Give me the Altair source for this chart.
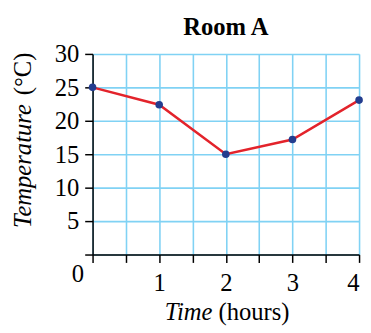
import altair as alt
import pandas as pd

hours = [0, 1, 2, 3, 4]
temps = [25.0, 22.4, 15.0, 17.2, 23.1]
x_ticks = [0, 0.5, 1, 1.5, 2, 2.5, 3, 3.5, 4]
y_ticks = [0, 5, 10, 15, 20, 25, 30]

df = pd.DataFrame({"Time": hours, "Temp": temps})

FONT = "Liberation Serif"
FS = 25
GRID = "#80d2f4"
W, H = 271, 204

xs = alt.Scale(domain=[0, 4], nice=False)
ys = alt.Scale(domain=[0, 30], nice=False)

x_axis = alt.Axis(values=x_ticks, title=None, grid=True, gridColor=GRID, gridWidth=1.6, gridOpacity=1,
                  domainColor="black", domainWidth=1.5, tickColor="black", tickWidth=1.5, tickSize=8,
                  labelFont=FONT, labelFontSize=FS, labelColor="black", labelPadding=9,
                  labelExpr="datum.value >= 1 && datum.value % 1 == 0 ? format(datum.value, 'd') : ''")
y_axis = alt.Axis(values=y_ticks, title=None, grid=True, gridColor=GRID, gridWidth=1.6, gridOpacity=1,
                  domainColor="black", domainWidth=1.5, tickColor="black", tickWidth=1.5, tickSize=8,
                  labelFont=FONT, labelFontSize=FS, labelColor="black", labelPadding=6,
                  labelExpr="datum.value == 0 ? '' : format(datum.value, 'd')")

base = alt.Chart(df)

line = base.mark_line(color="#e3232b", strokeWidth=2.5).encode(
    x=alt.X("Time:Q", scale=xs, axis=x_axis),
    y=alt.Y("Temp:Q", scale=ys, axis=y_axis),
)
pts = base.mark_point(filled=True, color="#233d8f", size=60, opacity=1).encode(
    x=alt.X("Time:Q", scale=xs, axis=x_axis),
    y=alt.Y("Temp:Q", scale=ys, axis=y_axis),
)

zero = alt.Chart(pd.DataFrame({"x": [0], "y": [0], "t": ["0"]})).mark_text(
    font=FONT, fontSize=FS, color="black", align="center", baseline="middle", dx=-15, dy=20
).encode(x=alt.X("x:Q", scale=xs, axis=x_axis), y=alt.Y("y:Q", scale=ys, axis=y_axis), text="t:N")

def label(txt, x, y, align, style="normal", weight="normal", angle=0):
    return alt.Chart(pd.DataFrame({"t": [txt]})).mark_text(
        font=FONT, fontSize=FS, fontStyle=style, fontWeight=weight, color="black", align=align,
        baseline="alphabetic", angle=angle
    ).encode(x=alt.value(x), y=alt.value(y), text="t:N")

title = label("Room A", W / 2, -19, "center", weight="bold")
xt1 = label("Time", 122, 271, "right", "italic")
xt2 = label("(hours)", 128, 271, "left")
yt1 = label("Temperature", -63, 177, "left", "italic", angle=270)
yt2 = label("(°C)", -63, 42, "left", "normal", angle=270)

chart = alt.layer(line, pts, zero, title, xt1, xt2, yt1, yt2).properties(
    width=W, height=H,
    autosize=alt.AutoSizeParams(type="none"),
    padding={"left": 86, "top": 44, "right": 4, "bottom": 72},
).configure_view(stroke=None)

chart.save("out.html", embed_options={"renderer": "svg", "actions": False})
